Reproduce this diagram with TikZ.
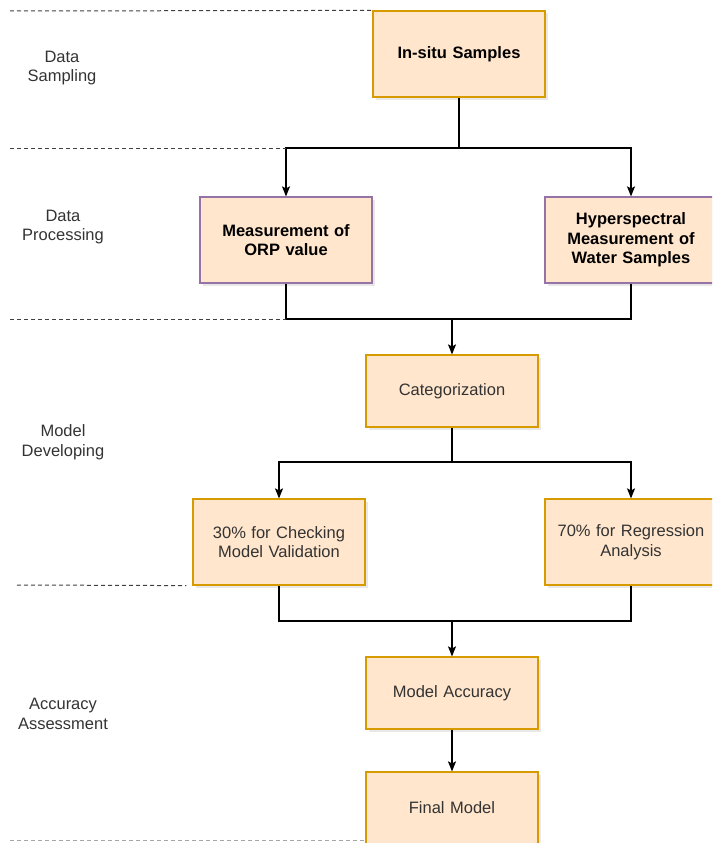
\documentclass[tikz,border=0pt]{standalone}
\usepackage{fontspec}
\setmainfont{Liberation Sans}
\usetikzlibrary{arrows.meta,shadows}
\definecolor{boxfill}{HTML}{FFE6CC}
\definecolor{goldline}{HTML}{D79B00}
\definecolor{purpleline}{HTML}{9673A6}
\definecolor{labelgrey}{HTML}{333333}
\begin{document}
\begin{tikzpicture}[x=1pt, y=-1pt,
    stage/.style={draw=goldline, fill=boxfill, line width=1.2pt, minimum width=172pt,
        minimum height=86pt, text width=160pt, align=center, text=labelgrey,
        font=\fontsize{16.5}{19.7}\selectfont,
        drop shadow={shadow xshift=2.5pt, shadow yshift=-2.5pt, opacity=0.18}},
    measure/.style={stage, draw=purpleline, text=black, font=\fontsize{16.5}{19.7}\selectfont\bfseries},
    phase/.style={align=center, text=labelgrey, font=\fontsize{16.5}{19.7}\selectfont},
    link/.style={line width=1.2pt},
    arr/.style={link, -{Stealth[length=10pt, width=8pt, inset=2pt]}},
    sep/.style={dashed, dash pattern=on 4pt off 3pt, line width=1pt, draw=black!75}]
    \useasboundingbox (0,0) rectangle (712,843);
    \clip (0,0) rectangle (712,843);

    \node[stage, text=black, font=\fontsize{16.5}{19.7}\selectfont\bfseries] (samples) at (459,54) {In-situ Samples};
    \node[measure] (orp) at (286,240) {Measurement of\\ORP value};
    \node[measure] (hyper) at (631,240) {Hyperspectral\\Measurement of\\Water Samples};
    \node[stage, minimum height=72pt] (categ) at (452,391) {Categorization};
    \node[stage] (valid) at (279,542) {30\% for Checking\\Model Validation};
    \node[stage] (regr) at (631,542) {70\% for Regression\\Analysis};
    \node[stage, minimum height=72pt] (acc) at (452,693) {Model Accuracy};
    \node[stage, minimum height=72pt] (final) at (452,808) {Final Model};

    % phase labels
    \node[phase] (sampling) at (62,68) {Data\\Sampling};
    \node[phase] (processing) at (63,227) {Data\\Processing};
    \node[phase] (developing) at (63,442) {Model\\Developing};
    \node[phase] (assessment) at (63,714) {Accuracy\\Assessment};

    \coordinate (split1) at (459,148);
    \coordinate (join1) at (452,319);
    \coordinate (split2) at (452,462);
    \coordinate (join2) at (452,621);

    \draw[link] (samples.south) -- (split1);
    \draw[arr] (split1) -| (orp.north);
    \draw[arr] (split1) -| (hyper.north);
    \draw[link] (orp.south) |- (join1) -| (hyper.south);
    \draw[arr] (join1) -- (categ.north);
    \draw[link] (categ.south) -- (split2);
    \draw[arr] (split2) -| (valid.north);
    \draw[arr] (split2) -| (regr.north);
    \draw[link] (valid.south) |- (join2) -| (regr.south);
    \draw[arr] (join2) -- (acc.north);
    \draw[arr] (acc.south) -- (final.north);

    % stage separators
    \draw[sep] (10,11) -- (samples.north west);
    \draw[sep] (10,148) -- (split1 -| orp.north);
    \draw[sep] (10,319) -- (join1 -| orp.south);
    \draw[sep] (17,585) -- ([xshift=-6pt]valid.south west);
    \draw[sep, draw=black!35] (10,840) -- (final.west |- 0,840);
\end{tikzpicture}
\end{document}
